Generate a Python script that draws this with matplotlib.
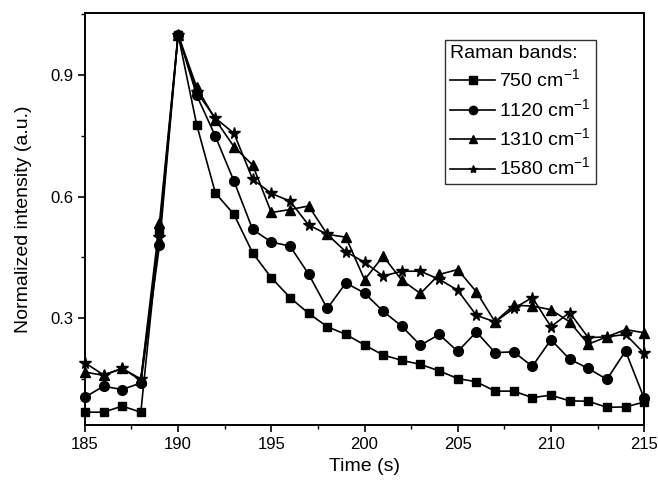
import matplotlib
matplotlib.use("Agg")
import matplotlib.pyplot as plt
from matplotlib.ticker import MultipleLocator

plt.rcParams['font.family'] = ['Liberation Sans', 'DejaVu Sans']
plt.rcParams['mathtext.fontset'] = 'custom'
plt.rcParams['mathtext.rm'] = 'Liberation Sans'

time_s = list(range(185, 216))

band_750 = [0.068, 0.068, 0.083, 0.068, 0.517, 1.0, 0.777, 0.609, 0.556, 0.461,
            0.400, 0.351, 0.312, 0.279, 0.260, 0.234, 0.209, 0.196, 0.186, 0.170,
            0.151, 0.143, 0.120, 0.120, 0.104, 0.110, 0.096, 0.095, 0.080, 0.081, 0.093]
band_1120 = [0.105, 0.132, 0.124, 0.140, 0.480, 1.0, 0.850, 0.749, 0.638, 0.519,
             0.488, 0.478, 0.409, 0.324, 0.387, 0.362, 0.317, 0.280, 0.233, 0.260,
             0.218, 0.266, 0.215, 0.217, 0.181, 0.247, 0.199, 0.176, 0.149, 0.219, 0.102]
band_1310 = [0.167, 0.159, 0.176, 0.147, 0.535, 1.0, 0.870, 0.790, 0.723, 0.678,
             0.561, 0.568, 0.577, 0.507, 0.500, 0.395, 0.453, 0.394, 0.361, 0.408,
             0.420, 0.365, 0.291, 0.332, 0.330, 0.321, 0.291, 0.236, 0.254, 0.272, 0.264]
band_1580 = [0.190, 0.160, 0.176, 0.150, 0.500, 1.0, 0.858, 0.794, 0.756, 0.643,
             0.608, 0.589, 0.530, 0.507, 0.464, 0.438, 0.404, 0.416, 0.416, 0.396,
             0.369, 0.307, 0.291, 0.324, 0.351, 0.279, 0.314, 0.252, 0.254, 0.260, 0.213]

series = [
    (band_750, 's', r'750 cm$^{\mathregular{-1}}$', 6),
    (band_1120, 'o', r'1120 cm$^{\mathregular{-1}}$', 7),
    (band_1310, '^', r'1310 cm$^{\mathregular{-1}}$', 7),
    (band_1580, '*', r'1580 cm$^{\mathregular{-1}}$', 8.5),
]

fig = plt.figure(figsize=(6.58, 4.87), dpi=100)
ax = fig.add_axes([0.129, 0.127, 0.850, 0.846])

for values, marker, label, ms in series:
    ax.plot(time_s, values, color='black', marker=marker, markersize=ms,
            lw=1.2, label=label, clip_on=False)

ax.set_xlim(185, 215)
ax.set_ylim(0.036, 1.053)
ax.xaxis.set_major_locator(MultipleLocator(5))
ax.xaxis.set_minor_locator(MultipleLocator(2.5))
ax.yaxis.set_major_locator(MultipleLocator(0.3))
ax.yaxis.set_minor_locator(MultipleLocator(0.15))
ax.tick_params(which='major', direction='out', length=5, width=1.2, labelsize=12)
ax.tick_params(which='minor', direction='out', length=3, width=1.0)
for sp in ax.spines.values():
    sp.set_linewidth(1.4)

ax.set_xlabel('Time (s)', fontsize=14, labelpad=4)
ax.set_ylabel('Normalized intensity (a.u.)', fontsize=14, labelpad=13)

leg = ax.legend(title='Raman bands:', loc='upper right', bbox_to_anchor=(0.913, 0.935),
                fontsize=14, title_fontsize=14, frameon=True, fancybox=False,
                edgecolor='black', handlelength=2.3, handletextpad=0.2,
                borderpad=0.25, labelspacing=0.35, borderaxespad=0, alignment='left')
leg.get_frame().set_linewidth(1.0)
for h in leg.legend_handles:
    h.set_markersize(6)

fig.savefig('out.png', dpi=100)
